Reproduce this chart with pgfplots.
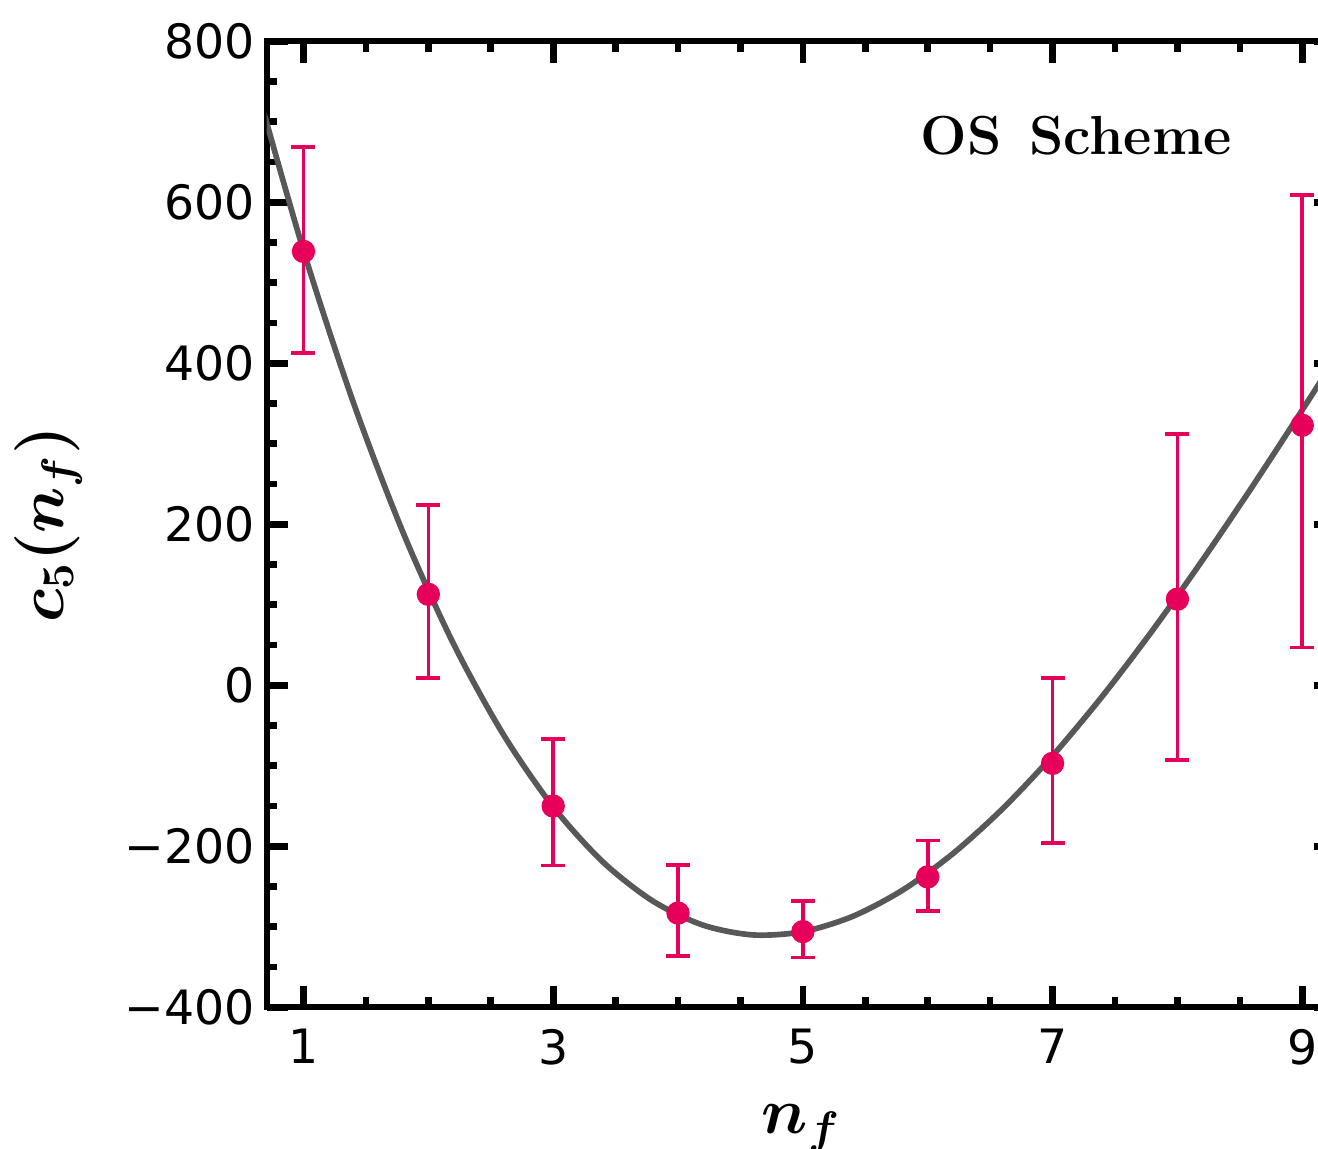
\RequirePackage{fix-cm}
\documentclass[border=0pt]{standalone}
\usepackage{amsmath}
\usepackage{fontspec}
\usepackage{pgfplots}
\pgfplotsset{compat=1.18}
\newfontfamily\dejavu{DejaVu Sans}
\definecolor{ptcol}{RGB}{230,0,90}
\definecolor{fitgray}{RGB}{88,88,88}

\begin{document}
\begin{tikzpicture}
\begin{axis}[
  scale only axis,
  width=320.8pt, height=289.8pt,
  xmin=0.705, xmax=9.27, ymin=-400, ymax=800,
  xtick={1,3,5,7,9},
  xticklabels={1,3,5,7,9},
  ytick={-400,-200,0,200,400,600,800},
  yticklabels={−400,−200,0,200,400,600,800},
  minor x tick num=3,
  minor y tick num=3,
  tick align=inside,
  major tick length=6.5pt, minor tick length=3.1pt,
  tick style={line width=2pt, black},
  axis line style={line width=1.8pt},
  ticklabel style={font=\dejavu\fontsize{14.2}{17}\selectfont},
  xticklabel style={yshift=-3pt},
  xlabel={$\boldsymbol{n_f}$},
  ylabel={$\boldsymbol{c_5(n_f)}$},
  xlabel shift=5pt,
  ylabel shift=6pt,
  label style={font=\fontsize{19.5}{23}\selectfont},
]
\addplot[color=fitgray, line width=1.7pt, smooth] coordinates {
(0.6,756.8) (1.0,540.0) (1.4,351.1) (1.8,188.9) (2.2,52.0) (2.6,-60.9)
(3.0,-151.0) (3.4,-219.7) (3.8,-268.2) (4.2,-297.9) (4.6,-310.1) (5.0,-306.0)
(5.4,-287.0) (5.8,-254.3) (6.2,-209.3) (6.6,-153.3) (7.0,-87.5) (7.4,-13.3)
(7.8,68.1) (8.2,155.3) (8.6,246.9) (9.0,342.0) (9.4,439.1)
};
\addplot[only marks, mark=*, mark size=3.3pt, color=ptcol,
  mark options={fill=ptcol, draw=ptcol},
  error bars/.cd, y dir=both, y explicit,
  error mark=|,
  error bar style={line width=1.1pt, ptcol},
  error mark options={line width=1.1pt, mark size=3.6pt, ptcol}]
  table[x=x, y=y, y error plus=ep, y error minus=em] {
x y ep em
1 539 130 126
2 113 111 104
3 -150 83 74
4 -283 60 53
5 -306 38 32
6 -238 45 42
7 -97 106 99
8 107 205 200
9 323 286 276
};
\node[anchor=base west, inner sep=0pt, font=\fontsize{16.5}{19}\selectfont\bfseries]
  at (axis cs:5.94,659) {OS\hspace{0.5em}Scheme};
\coordinate (bbl) at (axis cs:-1.431,-574.8);
\coordinate (btr) at (axis cs:9.126,851.3);
\end{axis}
\pgfresetboundingbox
\useasboundingbox (bbl) rectangle (btr);
\end{tikzpicture}
\end{document}
